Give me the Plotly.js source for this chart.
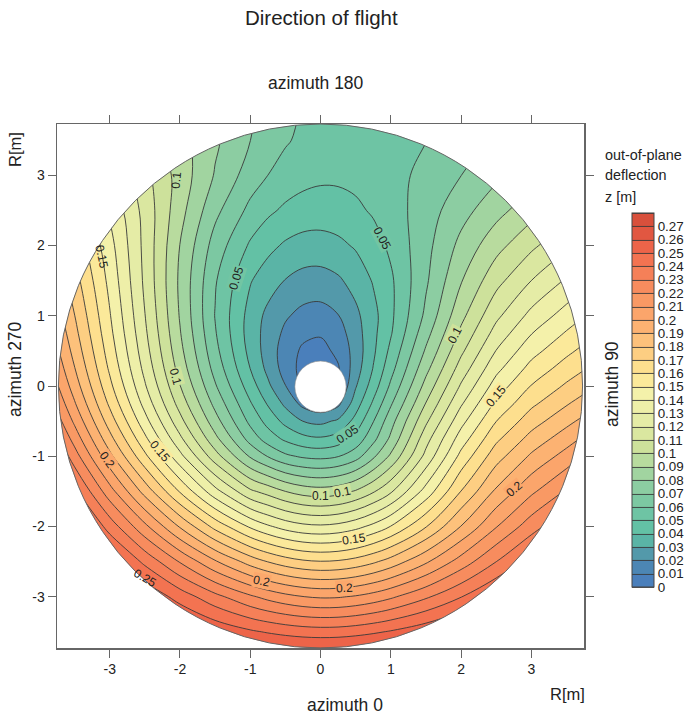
<!DOCTYPE html>
<html><head><meta charset="utf-8">
<script src="https://cdn.plot.ly/plotly-3.0.1.min.js"></script>
<style>html,body{margin:0;padding:0;background:#fff}</style></head>
<body><div id="chart" style="width:688px;height:718px"></div>
<script>
const xNodes=[-4,-3.5,-3,-2.5,-2,-1.5,-1,-.75,-.5,-.25,0,.25,.5,.75,1,1.5,2,2.5,3,3.5,4];
const yNodes=[-4,-3.5,-3,-2.5,-2,-1.5,-1,-.75,-.5,-.25,0,.25,.5,.75,1,1.5,2,2.5,3,3.5,4];
// out-of-plane deflection, in units of 0.0001 m, one row per y node
const rowM400=[3200,3094,2986,2901,2842,2803,2784,2779,2775,2774,2775,2780,2789,2800,2813,2847,2891,2944,3010,3094,3191];
const rowM350=[3108,2970,2852,2748,2660,2582,2517,2491,2469,2453,2446,2449,2463,2484,2510,2571,2643,2725,2819,2923,3029];
const rowM300=[3014,2864,2721,2589,2458,2331,2217,2169,2130,2102,2088,2091,2110,2141,2183,2284,2396,2515,2637,2760,2877];
const rowM250=[2922,2736,2555,2376,2192,2012,1858,1797,1749,1717,1704,1712,1739,1783,1841,1984,2143,2299,2445,2580,2709];
const rowM200=[2827,2591,2358,2125,1890,1668,1485,1415,1361,1327,1316,1330,1368,1427,1503,1694,1903,2094,2255,2392,2530];
const rowM150=[2707,2425,2142,1863,1591,1335,1120,1062,1000,958,943,960,1010,1088,1185,1439,1702,1918,2080,2212,2351];
const rowM100=[2560,2246,1928,1624,1330,1043,788,695,620,585,573,595,658,780,918,1230,1530,1758,1916,2039,2170];
const rowM075=[2483,2160,1834,1523,1222,928,660,553,480,429,412,444,534,670,820,1161,1447,1678,1835,1954,2077];
const rowM050=[2407,2080,1751,1437,1133,841,574,466,370,299,275,316,433,595,761,1081,1366,1598,1755,1870,1984];
const rowM025=[2336,2010,1681,1366,1060,771,510,390,278,170,120,175,351,516,687,1004,1287,1519,1678,1790,1896];
const rowP000=[2273,1951,1626,1311,1003,711,449,321,203,80,40,90,291,448,618,934,1212,1443,1604,1715,1815];
const rowP025=[2218,1904,1584,1271,960,664,399,274,157,65,30,90,251,404,564,870,1143,1371,1533,1644,1742];
const rowP050=[2171,1865,1553,1242,929,631,369,256,153,83,67,123,240,381,524,813,1079,1303,1464,1576,1675];
const rowP075=[2126,1832,1528,1220,907,609,355,261,179,124,110,155,254,374,491,764,1022,1238,1396,1510,1612];
const rowP100=[2081,1802,1508,1203,892,596,362,274,212,171,161,196,276,368,479,722,972,1177,1329,1443,1550];
const rowP150=[1990,1742,1472,1180,881,610,407,347,296,265,260,285,337,408,483,685,893,1067,1200,1312,1423];
const rowP200=[1886,1674,1436,1172,898,657,486,428,386,363,360,377,411,460,520,669,828,965,1078,1181,1284];
const rowP250=[1747,1581,1385,1165,936,727,573,520,482,459,452,460,481,512,552,652,762,865,961,1053,1144];
const rowP300=[1541,1426,1290,1129,958,792,653,600,560,534,520,519,527,544,567,626,699,779,861,946,1032];
const rowP350=[1291,1211,1135,1046,937,817,701,652,611,579,559,549,547,552,563,598,650,716,792,874,955];
const rowP400=[1159,1085,1030,974,903,811,714,668,628,595,571,556,549,548,552,576,620,680,751,826,900];
const zRows=[rowM400,rowM350,rowM300,rowM250,rowM200,rowM150,rowM100,rowM075,rowM050,rowM025,rowP000,rowP025,rowP050,rowP075,rowP100,rowP150,rowP200,rowP250,rowP300,rowP350,rowP400].map(r=>r.map(v=>v/10000));

const bandColors=['#4a7fbb','#4d8cae','#57a2a7','#5cbfa5','#66c2a5','#72c5a3','#80c9a2','#90cea2','#a5d5a0','#bcdc9e','#cfe29b','#dbe8a0','#e6eca6','#eeefa8','#f4f1aa','#fbe99b','#fde08f','#fdd083','#fdc37c','#fcb574','#fba86c','#fa9c66','#f89060','#f6845a','#f47954','#f06a4b','#e85c45','#d8503c'];
const nLevels=bandColors.length+1;
const colorscale=[[0,bandColors[0]]].concat(bandColors.map((c,i)=>[(i+1)/nLevels,c])).concat([[1,bandColors[bandColors.length-1]]]);
const barTicks=bandColors.map((c,i)=>i/100);
const barLabels=['0','0.01','0.02','0.03','0.04','0.05','0.06','0.07','0.08','0.09','0.1','0.11','0.12','0.13','0.14','0.15','0.16','0.17','0.18','0.19','0.2','0.21','0.22','0.23','0.24','0.25','0.26','0.27'];

const labelText=['0.1','0.15','0.05','0.1','0.05','0.1','0.15','0.2','0.05','0.1','0.1','0.15','0.2','0.2','0.25','0.2','0.15'];
const labelX=[-2.05,-3.11,-1.2,-2.06,.87,1.91,2.5,2.76,.39,0,.32,.48,.34,-.84,-2.5,-3.04,-2.29];
const labelY=[2.93,1.84,1.54,.13,2.1,.73,-.14,-1.47,-.69,-1.57,-1.51,-2.18,-2.88,-2.78,-2.74,-1.06,-.93];
const labelAngle=[-85,78,-72,75,62,-62,-50,-40,-33,0,-12,-8,-3,12,30,55,50];
const labelOnEdge=[true,true,false,false,false,false,false,false,false,false,false,false,false,false,true,false,false];

const R=3.73, holeR=.365;
const tickVals=[-3,-2,-1,0,1,2,3];
let ring='';
for(let i=0;i<=240;i++){const a=i/240*2*Math.PI;ring+=(i?'L':'M')+(R*Math.cos(a)).toFixed(4)+' '+(R*Math.sin(a)).toFixed(4)+' ';}
const mask='M-3.75 -3.75 L3.75 -3.75 L3.75 3.75 L-3.75 3.75 Z '+ring+'Z';

const axis=(extra)=>Object.assign({range:[-3.75,3.75],tickmode:'array',tickvals:tickVals,ticktext:tickVals.map(String),ticks:'outside',ticklen:8,tickwidth:1,tickcolor:'#666',showline:true,linecolor:'#666',linewidth:1.5,mirror:'ticks',showgrid:false,zeroline:false,tickfont:{family:'Liberation Sans',size:14,color:'#222'}},extra);

const trace={type:'contour',x:xNodes,y:yNodes,z:zRows,zmin:0,zmax:.28,autocontour:false,
 contours:{start:0,end:.28,size:.01,coloring:'fill',showlines:true},
 line:{color:'#3a3a3a',width:.9,smoothing:1},
 colorscale:colorscale,hoverinfo:'skip',
 colorbar:{thicknessmode:'pixels',thickness:22,lenmode:'pixels',len:374,xanchor:'left',x:(632-57)/527,yanchor:'bottom',y:(648-587)/524,xpad:0,ypad:0,outlinecolor:'#444',outlinewidth:1,tickmode:'array',tickvals:barTicks,ticktext:barLabels,ticks:'',tickfont:{family:'Liberation Sans',size:13.4,color:'#222'}}};

const txt=(text,x,y,size,extra)=>Object.assign({text,xref:'paper',yref:'paper',x:(x-57)/527,y:(648-y)/524,showarrow:false,xanchor:'center',yanchor:'middle',font:{family:'Liberation Sans',size,color:'#222'}},extra||{});

const annotations=[
 txt('Direction of flight',321,17,20.5),
 txt('azimuth 180',316,83,17.5),
 txt('azimuth 0',345,705,17.5),
 txt('azimuth 270',15,369,17.5,{textangle:-90}),
 txt('azimuth 90',612,384,17.5,{textangle:-90}),
 txt('R[m]',15,150,16.5,{textangle:-90}),
 txt('R[m]',567,694,16.5),
 txt('out-of-plane',603,155,14.4,{xanchor:'left'}),
 txt('deflection',603,175,14.4,{xanchor:'left'}),
 txt('z [m]',603,197,14.4,{xanchor:'left'})
].concat(labelText.map((t,i)=>({text:t,x:labelX[i],y:labelY[i],xref:'x',yref:'y',showarrow:false,textangle:labelAngle[i],
 bgcolor:labelOnEdge[i]?'rgba(0,0,0,0)':bandColors[Math.round(parseFloat(t)*100)],borderpad:0,font:{family:'Liberation Sans',size:12,color:'#222'}})));

const layout={width:688,height:718,margin:{l:57,r:104,t:124,b:70,pad:0,autoexpand:false},paper_bgcolor:'#fff',plot_bgcolor:'#fff',showlegend:false,
 xaxis:axis({}),yaxis:axis({range:[-3.73,3.73]}),annotations,
 shapes:[
  {type:'path',path:mask,fillcolor:'#fff',fillrule:'evenodd',line:{width:0},layer:'above'},
  {type:'circle',x0:-R,x1:R,y0:-R,y1:R,line:{color:'#666',width:1},layer:'above'},
  {type:'circle',x0:-holeR,x1:holeR,y0:-holeR-.01,y1:holeR-.01,fillcolor:'#fff',line:{color:'#888',width:.6},layer:'above'}
 ]};
Plotly.newPlot('chart',[trace],layout,{staticPlot:true,displayModeBar:false});
</script></body></html>
